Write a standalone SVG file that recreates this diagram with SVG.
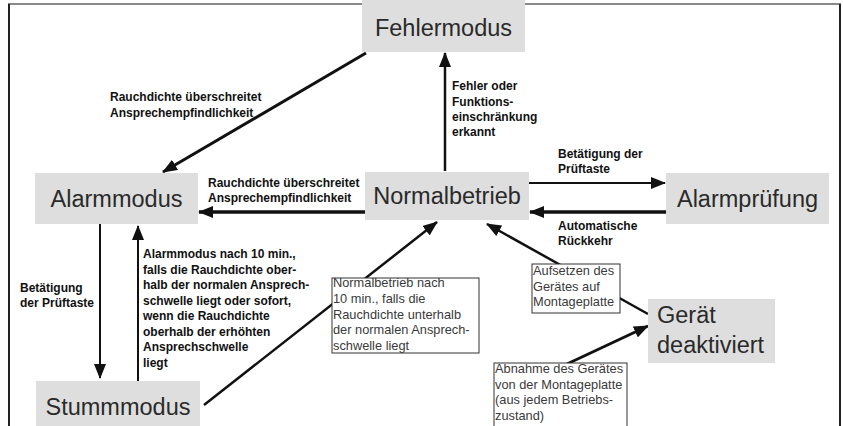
<svg xmlns="http://www.w3.org/2000/svg" width="843" height="426" viewBox="0 0 843 426">
<style>
.node rect{fill:#dedede;stroke:none}
.nt{font-family:"Liberation Sans",Arial,sans-serif;font-size:23.5px;fill:#2a2a2a}
.lb{font-family:"Liberation Sans",Arial,sans-serif;font-size:12px;font-weight:bold;fill:#111}
.bx rect{fill:#fff;stroke:#333;stroke-width:1}
.bt{font-family:"Liberation Sans",Arial,sans-serif;font-size:12.8px;fill:#3a3a3a}
.c{stroke:#111;fill:none}
</style>
<defs>
<marker id="ah" markerUnits="userSpaceOnUse" markerWidth="15" markerHeight="12" refX="14" refY="6" orient="auto">
<path d="M0,0 L15,6 L0,12 z" fill="#111"/>
</marker>
</defs>
<rect x="0" y="0" width="843" height="426" fill="#fff"/>
<line x1="8" y1="4" x2="841" y2="4" stroke="#8a8a8a" stroke-width="2"/>
<line x1="9" y1="4" x2="9" y2="426" stroke="#222" stroke-width="2"/>
<line x1="840" y1="4" x2="840" y2="426" stroke="#222" stroke-width="2"/>

<g id="connectors">
<line class="c" x1="366" y1="53" x2="163" y2="172" stroke-width="3" marker-end="url(#ah)"/>
<line class="c" x1="445" y1="171" x2="445" y2="53" stroke-width="2.5" marker-end="url(#ah)"/>
<line class="c" x1="365" y1="212" x2="199" y2="212" stroke-width="3.5" marker-end="url(#ah)"/>
<line class="c" x1="529" y1="183" x2="665" y2="183" stroke-width="2" marker-end="url(#ah)"/>
<line class="c" x1="666" y1="212" x2="530" y2="212" stroke-width="3.5" marker-end="url(#ah)"/>
<line class="c" x1="100" y1="224" x2="100" y2="378" stroke-width="2" marker-end="url(#ah)"/>
<line class="c" x1="138" y1="381" x2="138" y2="226" stroke-width="2" marker-end="url(#ah)"/>
<line class="c" x1="204" y1="405" x2="437" y2="222" stroke-width="2.5" marker-end="url(#ah)"/>
<line class="c" x1="648" y1="314" x2="487" y2="224" stroke-width="2.5" marker-end="url(#ah)"/>
<line class="c" x1="567" y1="364" x2="648" y2="326" stroke-width="3" marker-end="url(#ah)"/>
</g>

<g id="fehlermodus" class="node"><rect x="362" y="0" width="163" height="52"/><text class="nt" x="443.5" y="36" text-anchor="middle">Fehlermodus</text></g>
<g id="alarmmodus" class="node"><rect x="35" y="173" width="163" height="51"/><text class="nt" x="116.5" y="207" text-anchor="middle">Alarmmodus</text></g>
<g id="normalbetrieb" class="node"><rect x="365" y="172" width="164" height="48"/><text class="nt" x="447" y="204" text-anchor="middle">Normalbetrieb</text></g>
<g id="alarmpruefung" class="node"><rect x="666" y="173" width="163" height="51"/><text class="nt" x="747.5" y="207" text-anchor="middle">Alarmprüfung</text></g>
<g id="stummmodus" class="node"><rect x="36" y="381" width="164" height="50"/><text class="nt" x="118" y="415" text-anchor="middle">Stummmodus</text></g>
<g id="geraet" class="node"><rect x="648" y="299" width="127" height="64"/><text class="nt" x="657" y="323">Gerät</text><text class="nt" x="657" y="353">deaktiviert</text></g>

<g id="labels">
<text class="lb" x="110" y="101">Rauchdichte überschreitet</text>
<text class="lb" x="110" y="117">Ansprechempfindlichkeit</text>
<text class="lb" x="208" y="187">Rauchdichte überschreitet</text>
<text class="lb" x="208" y="202">Ansprechempfindlichkeit</text>
<text class="lb" x="452" y="90">Fehler oder</text>
<text class="lb" x="452" y="106">Funktions-</text>
<text class="lb" x="452" y="121">einschränkung</text>
<text class="lb" x="452" y="136">erkannt</text>
<text class="lb" x="558" y="158">Betätigung der</text>
<text class="lb" x="558" y="173">Prüftaste</text>
<text class="lb" x="558" y="230">Automatische</text>
<text class="lb" x="558" y="245">Rückkehr</text>
<text class="lb" x="20" y="292">Betätigung</text>
<text class="lb" x="20" y="307">der Prüftaste</text>
<text class="lb" x="143" y="258">Alarmmodus nach 10 min.,</text>
<text class="lb" x="143" y="273.5">falls die Rauchdichte ober-</text>
<text class="lb" x="143" y="289">halb der normalen Ansprech-</text>
<text class="lb" x="143" y="304.5">schwelle liegt oder sofort,</text>
<text class="lb" x="143" y="320">wenn die Rauchdichte</text>
<text class="lb" x="143" y="335.5">oberhalb der erhöhten</text>
<text class="lb" x="143" y="351">Ansprechschwelle</text>
<text class="lb" x="143" y="366.5">liegt</text>
</g>

<g id="box-normal" class="bx"><rect x="332" y="278" width="147" height="75"/>
<text class="bt" x="333" y="287">Normalbetrieb nach</text>
<text class="bt" x="333" y="303">10 min., falls die</text>
<text class="bt" x="333" y="318.5">Rauchdichte unterhalb</text>
<text class="bt" x="333" y="334">der normalen Ansprech-</text>
<text class="bt" x="333" y="350">schwelle liegt</text>
</g>
<g id="box-aufsetzen" class="bx"><rect x="532" y="264" width="88" height="49"/>
<text class="bt" x="533" y="275">Aufsetzen des</text>
<text class="bt" x="533" y="291">Gerätes auf</text>
<text class="bt" x="533" y="306">Montageplatte</text>
</g>
<g id="box-abnahme" class="bx"><rect x="494" y="363" width="133" height="70"/>
<text class="bt" x="495" y="373">Abnahme des Gerätes</text>
<text class="bt" x="495" y="388.5">von der Montageplatte</text>
<text class="bt" x="495" y="404">(aus jedem Betriebs-</text>
<text class="bt" x="495" y="419.5">zustand)</text>
</g>
</svg>
